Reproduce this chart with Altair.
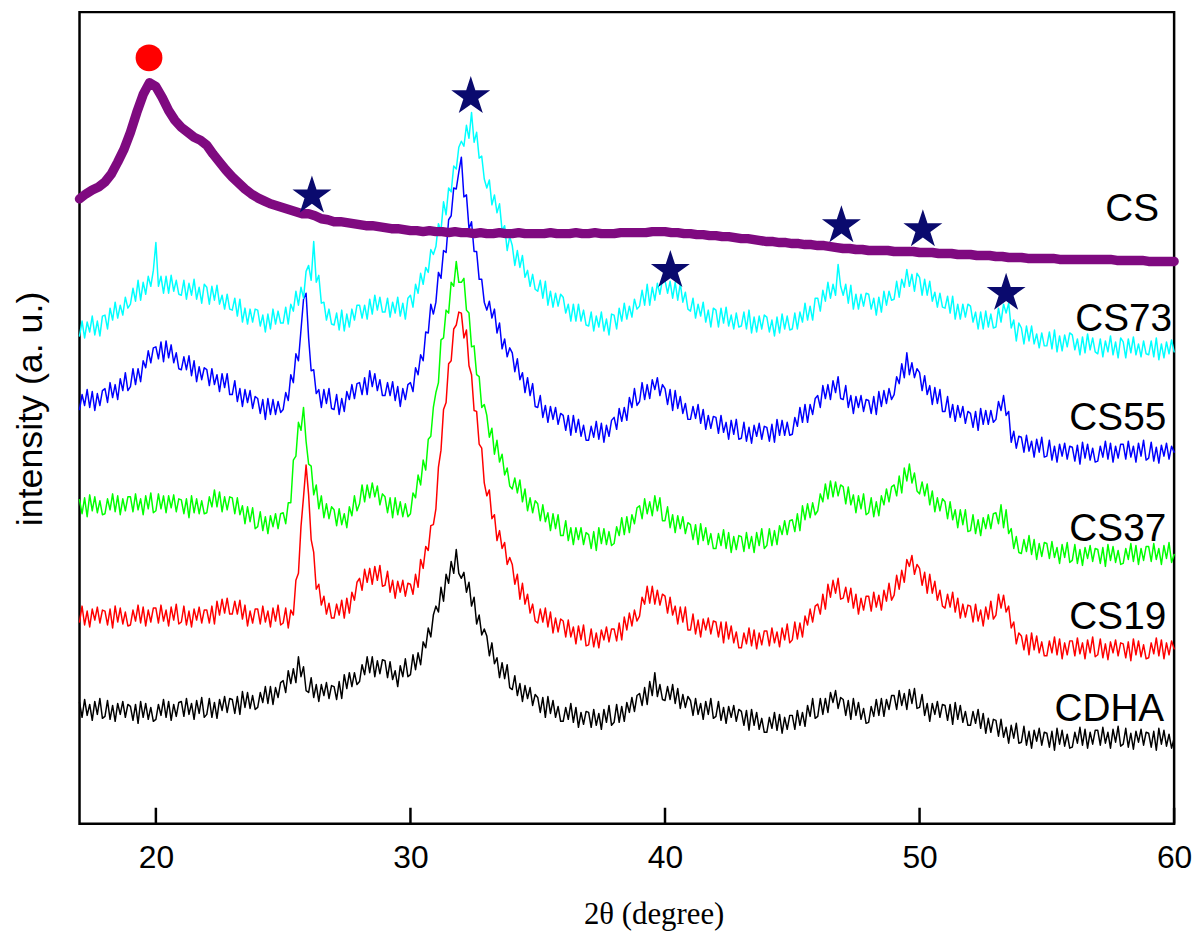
import altair as alt
import pandas as pd

# ---------------- data ----------------
X_START = 17.0
STEP_NOISY = 0.1   # 2theta step of the noisy XRD traces (10 values per degree)
STEP_CS = 0.25     # 2theta step of the CS trace (4 values per degree)

cdha = [
    122, 107, 125, 109, 120, 104, 123, 110, 126, 106,  # 17
    108, 124, 105, 119, 103, 121, 110, 123, 107, 120,  # 18
    118, 104, 120, 101, 123, 107, 121, 105, 117, 103,  # 19
    105, 120, 109, 125, 107, 123, 104, 120, 108, 122,  # 20
    123, 108, 126, 110, 121, 105, 124, 111, 127, 107,  # 21
    110, 126, 107, 122, 106, 125, 114, 128, 112, 126,  # 22
    125, 111, 128, 110, 133, 117, 132, 116, 129, 115,  # 23
    117, 132, 122, 138, 121, 138, 120, 137, 127, 142,  # 24
    144, 132, 154, 141, 156, 142, 168, 148, 158, 134,  # 25
    132, 147, 127, 140, 123, 140, 129, 142, 126, 139,  # 26
    138, 125, 143, 126, 150, 136, 152, 138, 152, 140,  # 27
    143, 160, 150, 168, 152, 168, 148, 164, 151, 165,  # 28
    164, 147, 163, 145, 154, 138, 159, 148, 166, 148,  # 29
    150, 170, 155, 172, 160, 183, 177, 197, 188, 210,  # 30
    219, 213, 238, 224, 251, 242, 264, 252, 276, 252,  # 31
    247, 253, 233, 243, 219, 228, 201, 210, 190, 196,  # 32
    189, 169, 182, 161, 167, 147, 162, 146, 160, 137,  # 33
    135, 149, 129, 141, 123, 139, 126, 137, 119, 130,  # 34
    127, 112, 127, 107, 128, 111, 124, 107, 118, 103,  # 35
    103, 117, 105, 121, 102, 117, 97, 112, 100, 113,   # 36
    112, 97, 115, 99, 111, 95, 115, 102, 119, 99,      # 37
    102, 120, 102, 118, 103, 122, 112, 127, 113, 129,  # 38
    131, 119, 137, 120, 143, 129, 152, 128, 140, 125,  # 39
    124, 138, 125, 140, 121, 136, 116, 130, 117, 128,  # 40
    124, 109, 126, 110, 121, 105, 123, 110, 126, 106,  # 41
    108, 123, 104, 117, 101, 118, 107, 119, 103, 115,  # 42
    113, 99, 114, 94, 115, 99, 112, 95, 106, 92,       # 43
    92, 107, 96, 112, 94, 110, 91, 107, 95, 109,       # 44
    109, 95, 114, 99, 112, 98, 119, 108, 126, 106,     # 45
    108, 126, 110, 126, 112, 132, 122, 134, 116, 127,  # 46
    125, 109, 124, 105, 126, 109, 122, 105, 116, 101,  # 47
    102, 118, 108, 125, 109, 126, 108, 125, 115, 129,  # 48
    129, 115, 134, 119, 131, 115, 135, 121, 136, 116,  # 49
    117, 130, 109, 121, 103, 121, 110, 123, 107, 120,  # 50
    119, 104, 120, 100, 122, 105, 119, 102, 113, 99,   # 51
    99, 113, 101, 115, 96, 111, 91, 106, 92, 105,      # 52
    104, 88, 105, 87, 97, 81, 99, 86, 101, 81,         # 53
    82, 98, 79, 93, 76, 94, 83, 96, 79, 92,            # 54
    91, 77, 93, 74, 96, 80, 94, 78, 90, 76,            # 55
    77, 92, 81, 97, 79, 95, 76, 92, 80, 94,            # 56
    94, 79, 97, 81, 92, 76, 95, 82, 98, 78,            # 57
    80, 96, 77, 91, 75, 93, 82, 95, 79, 92,            # 58
    91, 77, 93, 74, 96, 80, 94, 78, 90, 76,            # 59
    86,                                                # 60
]

cs19 = [
    203, 219, 200, 214, 198, 216, 205, 218, 202, 215,  # 17
    214, 200, 216, 197, 219, 203, 217, 201, 213, 199,  # 18
    200, 215, 204, 220, 202, 218, 199, 215, 203, 217,  # 19
    217, 202, 220, 204, 215, 199, 218, 205, 221, 201,  # 20
    203, 219, 200, 214, 198, 216, 205, 218, 202, 215,  # 21
    215, 202, 219, 201, 224, 210, 226, 212, 227, 211,  # 22
    211, 224, 211, 225, 206, 220, 199, 214, 202, 216,  # 23
    216, 201, 219, 203, 214, 198, 217, 204, 220, 200,  # 24
    202, 217, 197, 215, 210, 245, 252, 299, 329, 361,  # 25
    331, 286, 273, 236, 241, 220, 229, 211, 222, 207,  # 26
    207, 221, 210, 225, 207, 227, 212, 233, 225, 243,  # 27
    247, 235, 256, 243, 257, 241, 259, 245, 260, 239,  # 28
    240, 254, 233, 245, 227, 244, 233, 245, 229, 242,  # 29
    241, 231, 251, 238, 266, 257, 279, 275, 300, 301,  # 30
    317, 359, 376, 417, 424, 463, 466, 498, 502, 515,  # 31
    514, 489, 497, 461, 452, 416, 415, 382, 378, 343,  # 32
    330, 336, 307, 311, 285, 295, 277, 283, 261, 268,  # 33
    261, 241, 251, 226, 242, 221, 231, 212, 221, 204,  # 34
    202, 216, 203, 217, 198, 213, 192, 207, 193, 206,  # 35
    204, 188, 205, 188, 198, 181, 199, 185, 200, 179,  # 36
    180, 196, 178, 192, 177, 195, 185, 198, 183, 196,  # 37
    196, 184, 202, 185, 208, 195, 212, 199, 215, 204,  # 38
    209, 228, 221, 239, 222, 239, 221, 235, 220, 231,  # 39
    229, 212, 228, 210, 219, 201, 218, 203, 218, 195,  # 40
    195, 211, 191, 205, 188, 206, 195, 207, 191, 204,  # 41
    203, 188, 203, 182, 203, 186, 199, 182, 193, 177,  # 42
    177, 192, 181, 197, 179, 195, 176, 192, 180, 194,  # 43
    194, 179, 197, 182, 193, 178, 197, 185, 201, 182,  # 44
    185, 203, 186, 202, 188, 209, 200, 216, 203, 219,  # 45
    221, 211, 231, 216, 241, 228, 245, 232, 247, 226,  # 46
    227, 238, 223, 237, 217, 231, 211, 227, 215, 229,  # 47
    229, 214, 233, 218, 230, 215, 235, 224, 242, 225,  # 48
    230, 250, 236, 255, 243, 266, 259, 270, 251, 261,  # 49
    257, 240, 253, 232, 251, 232, 244, 225, 235, 219,  # 50
    217, 231, 218, 233, 213, 227, 207, 221, 208, 220,  # 51
    219, 203, 221, 204, 215, 199, 218, 206, 224, 206,  # 52
    210, 231, 217, 230, 213, 219, 197, 203, 181, 192,  # 53
    189, 175, 190, 170, 192, 175, 189, 172, 183, 169,  # 54
    169, 184, 172, 188, 170, 186, 166, 182, 170, 184,  # 55
    184, 169, 187, 171, 182, 166, 185, 172, 188, 168,  # 56
    170, 186, 167, 181, 165, 183, 172, 185, 169, 182,  # 57
    181, 167, 183, 164, 186, 170, 184, 168, 180, 166,  # 58
    167, 182, 171, 187, 169, 185, 166, 182, 170, 184,  # 59
    176,                                               # 60
]

cs37 = [
    326, 312, 328, 309, 331, 315, 329, 313, 325, 311,  # 17
    312, 327, 316, 332, 314, 330, 311, 327, 315, 329,  # 18
    329, 314, 332, 316, 327, 311, 330, 317, 333, 313,  # 19
    315, 332, 317, 330, 313, 330, 318, 331, 314, 327,  # 20
    326, 312, 327, 308, 330, 313, 327, 312, 325, 312,  # 21
    313, 329, 319, 336, 319, 334, 314, 329, 316, 329,  # 22
    328, 312, 328, 311, 320, 302, 319, 304, 318, 297,  # 23
    299, 314, 295, 309, 292, 310, 299, 312, 297, 312,  # 24
    313, 302, 323, 323, 366, 370, 404, 396, 419, 385,  # 25
    362, 360, 331, 341, 317, 330, 308, 322, 307, 319,  # 26
    316, 300, 317, 301, 312, 298, 319, 310, 330, 315,  # 27
    322, 341, 324, 341, 328, 343, 329, 340, 321, 332,  # 28
    329, 313, 328, 308, 328, 311, 324, 309, 322, 309,  # 29
    312, 333, 328, 351, 341, 366, 356, 387, 390, 419,  # 30
    434, 444, 487, 489, 517, 514, 545, 541, 566, 545,  # 31
    545, 549, 517, 514, 480, 481, 452, 450, 419, 422,  # 32
    411, 389, 398, 372, 386, 364, 372, 351, 358, 340,  # 33
    337, 348, 333, 346, 324, 337, 315, 328, 313, 325,  # 34
    322, 305, 321, 304, 313, 295, 312, 297, 311, 290,  # 35
    290, 305, 285, 298, 281, 298, 286, 298, 281, 293,  # 36
    291, 277, 294, 275, 298, 282, 297, 281, 294, 280,  # 37
    282, 299, 290, 308, 291, 309, 293, 311, 302, 318,  # 38
    320, 307, 327, 312, 324, 310, 330, 315, 328, 305,  # 39
    305, 319, 298, 311, 293, 310, 297, 309, 292, 303,  # 40
    301, 286, 301, 281, 302, 285, 298, 281, 292, 277,  # 41
    277, 292, 280, 296, 277, 293, 273, 289, 276, 290,  # 42
    289, 274, 293, 277, 289, 273, 293, 280, 297, 277,  # 43
    280, 297, 280, 295, 281, 300, 291, 305, 291, 305,  # 44
    306, 294, 312, 295, 320, 306, 322, 308, 323, 311,  # 45
    315, 332, 324, 342, 327, 345, 329, 344, 330, 341,  # 46
    339, 322, 339, 321, 331, 313, 330, 317, 332, 311,  # 47
    313, 328, 309, 324, 310, 330, 321, 337, 324, 339,  # 48
    341, 330, 350, 333, 358, 345, 362, 343, 353, 335,  # 49
    332, 344, 330, 342, 321, 335, 314, 328, 315, 327,  # 50
    324, 307, 324, 306, 316, 298, 316, 301, 316, 294,  # 51
    295, 311, 292, 306, 290, 308, 297, 311, 297, 312,  # 52
    313, 302, 321, 298, 316, 292, 297, 277, 289, 273,  # 53
    272, 286, 274, 290, 271, 286, 266, 282, 269, 283,  # 54
    282, 267, 284, 268, 278, 262, 281, 268, 283, 263,  # 55
    265, 281, 262, 276, 260, 278, 267, 280, 264, 277,  # 56
    276, 262, 278, 259, 281, 265, 279, 263, 275, 261,  # 57
    262, 277, 266, 282, 264, 280, 261, 277, 265, 279,  # 58
    279, 264, 282, 266, 277, 261, 280, 267, 283, 263,  # 59
    271,                                               # 60
]

cs55 = [
    417, 432, 421, 437, 419, 435, 416, 433, 421, 436,  # 17
    438, 424, 444, 429, 442, 427, 448, 436, 454, 436,  # 18
    440, 458, 442, 458, 445, 466, 459, 476, 464, 479,  # 19
    480, 468, 485, 465, 486, 469, 482, 464, 474, 458,  # 20
    457, 470, 457, 471, 451, 466, 445, 460, 447, 459,  # 21
    457, 441, 458, 442, 452, 435, 453, 439, 453, 432,  # 22
    432, 446, 425, 438, 420, 437, 424, 436, 418, 430,  # 23
    428, 413, 427, 407, 428, 412, 427, 412, 425, 414,  # 24
    417, 434, 426, 452, 444, 473, 466, 497, 528, 534,  # 25
    489, 456, 457, 433, 437, 419, 437, 423, 438, 418,  # 26
    417, 432, 412, 428, 415, 435, 427, 442, 428, 443,  # 27
    444, 432, 449, 432, 456, 440, 453, 436, 447, 431,  # 28
    431, 444, 431, 445, 426, 440, 420, 438, 427, 442,  # 29
    444, 435, 459, 452, 472, 466, 495, 494, 523, 513,  # 30
    525, 555, 549, 577, 575, 608, 612, 640, 639, 656,  # 31
    671, 631, 633, 599, 606, 576, 576, 548, 548, 525,  # 32
    517, 526, 509, 518, 494, 504, 478, 488, 470, 479,  # 33
    474, 455, 468, 447, 454, 434, 449, 431, 443, 420,  # 34
    419, 431, 409, 421, 404, 420, 407, 419, 402, 413,  # 35
    411, 396, 411, 391, 411, 394, 407, 390, 401, 386,  # 36
    386, 400, 389, 405, 387, 403, 384, 401, 390, 406,  # 37
    409, 397, 418, 405, 419, 406, 429, 419, 438, 421,  # 38
    425, 444, 427, 442, 428, 447, 437, 449, 431, 442,  # 39
    438, 422, 437, 416, 436, 418, 430, 413, 423, 407,  # 40
    407, 420, 408, 422, 403, 417, 397, 411, 398, 410,  # 41
    409, 393, 411, 394, 404, 387, 406, 392, 407, 387,  # 42
    388, 404, 385, 399, 383, 401, 390, 403, 387, 400,  # 43
    399, 385, 402, 384, 407, 391, 406, 391, 404, 391,  # 44
    392, 409, 400, 419, 404, 422, 404, 422, 412, 428,  # 45
    431, 419, 441, 428, 442, 427, 446, 434, 450, 428,  # 46
    427, 441, 419, 431, 413, 430, 419, 431, 415, 427,  # 47
    426, 413, 430, 412, 435, 420, 436, 423, 438, 427,  # 48
    432, 450, 443, 463, 449, 474, 452, 464, 449, 458,  # 49
    454, 436, 451, 432, 441, 422, 439, 423, 437, 415,  # 50
    415, 430, 409, 422, 405, 421, 409, 420, 403, 415,  # 51
    413, 399, 415, 396, 418, 402, 416, 402, 416, 404,  # 52
    407, 425, 416, 431, 411, 415, 384, 395, 378, 390,  # 53
    389, 374, 391, 375, 385, 369, 387, 374, 389, 369,  # 54
    370, 386, 366, 380, 364, 382, 370, 383, 367, 380,  # 55
    379, 365, 381, 362, 384, 368, 382, 366, 378, 364,  # 56
    365, 380, 369, 385, 367, 383, 364, 380, 368, 382,  # 57
    382, 367, 385, 369, 380, 364, 383, 370, 386, 366,  # 58
    368, 384, 365, 379, 363, 381, 370, 383, 367, 380,  # 59
    374,                                               # 60
]

cs73 = [
    491, 506, 489, 505, 495, 511, 492, 506, 491, 511,  # 17
    512, 498, 519, 507, 525, 509, 522, 512, 530, 519,  # 18
    523, 539, 526, 547, 527, 545, 533, 551, 541, 557,  # 19
    585, 541, 551, 534, 551, 534, 552, 536, 547, 533,  # 20
    532, 547, 528, 544, 532, 548, 528, 540, 524, 543,  # 21
    540, 523, 541, 527, 542, 523, 532, 518, 533, 518,  # 22
    517, 529, 511, 528, 505, 519, 503, 518, 505, 518,  # 23
    517, 501, 512, 495, 513, 498, 518, 503, 516, 504,  # 24
    504, 520, 503, 523, 516, 536, 522, 540, 529, 556,  # 25
    562, 547, 586, 545, 552, 524, 525, 507, 518, 503,  # 26
    502, 514, 497, 517, 496, 513, 500, 518, 507, 522,  # 27
    522, 509, 522, 508, 528, 513, 532, 517, 530, 515,  # 28
    515, 529, 510, 525, 514, 530, 511, 524, 508, 529,  # 29
    532, 520, 543, 534, 554, 543, 560, 555, 578, 573,  # 30
    581, 604, 597, 626, 613, 640, 636, 662, 659, 681,  # 31
    687, 682, 703, 690, 716, 686, 696, 670, 672, 649,  # 32
    640, 648, 623, 633, 615, 624, 597, 602, 577, 591,  # 33
    582, 562, 577, 560, 572, 550, 557, 541, 553, 538,  # 34
    536, 547, 529, 546, 522, 536, 520, 534, 521, 533,  # 35
    530, 514, 523, 506, 523, 506, 523, 506, 517, 502,  # 36
    501, 515, 496, 511, 500, 515, 496, 508, 492, 513,  # 37
    512, 498, 519, 506, 524, 508, 521, 510, 528, 518,  # 38
    521, 537, 522, 543, 522, 540, 527, 544, 533, 548,  # 39
    547, 534, 546, 529, 545, 527, 544, 525, 535, 518,  # 40
    516, 529, 509, 523, 511, 525, 505, 517, 500, 519,  # 41
    517, 500, 519, 504, 520, 501, 512, 498, 514, 500,  # 42
    501, 515, 498, 517, 494, 510, 495, 511, 498, 512,  # 43
    510, 495, 507, 491, 510, 494, 513, 498, 511, 497,  # 44
    498, 514, 498, 515, 505, 524, 507, 521, 507, 529,  # 45
    529, 516, 537, 526, 545, 529, 543, 532, 563, 541,  # 46
    532, 543, 524, 542, 518, 533, 518, 533, 521, 534,  # 47
    533, 518, 529, 512, 530, 515, 536, 522, 536, 527,  # 48
    528, 546, 530, 548, 540, 558, 541, 553, 536, 554,  # 49
    550, 532, 548, 532, 546, 526, 535, 520, 534, 520,  # 50
    519, 531, 514, 531, 508, 523, 508, 523, 510, 523,  # 51
    521, 505, 515, 498, 515, 498, 516, 500, 513, 499,  # 52
    500, 519, 505, 523, 514, 524, 499, 507, 486, 504,  # 53
    499, 483, 501, 486, 501, 483, 493, 479, 494, 481,  # 54
    481, 495, 478, 497, 475, 491, 476, 492, 480, 494,  # 55
    492, 477, 488, 472, 490, 474, 493, 477, 489, 475,  # 56
    473, 488, 470, 486, 475, 491, 472, 485, 469, 489,  # 57
    485, 469, 488, 474, 490, 472, 483, 470, 486, 473,  # 58
    472, 486, 470, 489, 467, 483, 469, 485, 473, 487,  # 59
    475,                                               # 60
]

cs = [
    629, 634, 638, 641,  # 17
    646, 654, 666, 679,  # 18
    696, 716, 734, 746,  # 19
    742, 731, 718, 708,  # 20
    701, 696, 691, 688,  # 21
    683, 674, 666, 658,  # 22
    651, 645, 639, 634,  # 23
    630, 627, 624, 622,  # 24
    620, 618, 616, 614,  # 25
    614, 612, 609, 608,  # 26
    606, 606, 605, 604,  # 27
    603, 602, 602, 601,  # 28
    600, 599, 599, 598,  # 29
    597, 597, 596, 597,  # 30
    596, 596, 595, 596,  # 31
    595, 595, 594, 595,  # 32
    594, 594, 595, 594,  # 33
    594, 595, 594, 594,  # 34
    594, 594, 595, 594,  # 35
    594, 594, 595, 594,  # 36
    594, 595, 594, 594,  # 37
    594, 595, 595, 595,  # 38
    595, 595, 596, 596,  # 39
    596, 595, 595, 594,  # 40
    594, 593, 593, 592,  # 41
    592, 591, 591, 590,  # 42
    589, 589, 588, 587,  # 43
    586, 586, 585, 585,  # 44
    584, 584, 583, 583,  # 45
    582, 582, 581, 580,  # 46
    579, 579, 578, 578,  # 47
    577, 577, 577, 577,  # 48
    576, 576, 576, 576,  # 49
    575, 575, 575, 574,  # 50
    574, 574, 573, 573,  # 51
    573, 572, 572, 572,  # 52
    571, 571, 570, 570,  # 53
    570, 569, 569, 569,  # 54
    569, 569, 568, 568,  # 55
    568, 568, 568, 568,  # 56
    568, 568, 568, 567,  # 57
    567, 567, 567, 567,  # 58
    566, 566, 566, 566,  # 59
    566,                 # 60
]

# peak markers
star_theta = [26.13, 32.37, 40.21, 46.93, 50.13, 53.40]
star_intensity = [632, 732, 557, 602, 598, 534]
circle_theta = [19.73]
circle_intensity = [771]

# sample labels
label_text = ["CS", "CS73", "CS55", "CS37", "CS19", "CDHA"]
label_theta = [59.41, 59.92, 59.69, 59.69, 59.69, 59.61]
label_intensity = [607, 496, 396, 285, 196, 103]

tick_values = [20, 30, 40, 50, 60]

# five-pointed star path in the [-1, 1] box
STAR = ("M0,-1L0.2245,-0.309L0.951,-0.309L0.3633,0.118L0.588,0.809L0,0.382"
        "L-0.588,0.809L-0.3633,0.118L-0.951,-0.309L-0.2245,-0.309Z")

# ---------------- chart ----------------
def series_frame(name, values, step):
    return pd.DataFrame({
        "two_theta": [round(X_START + step * i, 3) for i in range(len(values))],
        "intensity": values,
        "sample": name,
    })

X = alt.X(
    "two_theta:Q",
    scale=alt.Scale(domain=[17, 60], nice=False, zero=False),
    axis=alt.Axis(
        orient="bottom", values=tick_values, grid=False, domain=False, ticks=False,
        labelFont="Liberation Sans", labelFontSize=32, labelColor="black",
        labelPadding=19, labelBaseline="top", labelFlush=False,
        title="2θ (degree)", titleFont="Liberation Serif", titleFontSize=31,
        titleFontWeight="normal", titleColor="black",
        titleX=578, titleY=101, titleAlign="center", titleBaseline="alphabetic",
    ),
)
Y = alt.Y(
    "intensity:Q",
    scale=alt.Scale(domain=[0, 817], nice=False, zero=False),
    axis=alt.Axis(
        orient="left", labels=False, grid=False, domain=False, ticks=False,
        title="intensity (a. u.)", titleFont="Liberation Sans", titleFontSize=36,
        titleFontWeight="normal", titleColor="black", titleAngle=270,
        titleX=-38, titleY=399, titleAlign="center", titleBaseline="alphabetic",
    ),
)

def trace(name, values, step, color, width):
    return alt.Chart(series_frame(name, values, step)).mark_line(
        color=color, strokeWidth=width, strokeJoin="round", strokeCap="round"
    ).encode(x=X, y=Y)

layers = [
    trace("CDHA", cdha, STEP_NOISY, "#000000", 1.5),
    trace("CS19", cs19, STEP_NOISY, "#ff0000", 1.5),
    trace("CS37", cs37, STEP_NOISY, "#00ff00", 1.5),
    trace("CS55", cs55, STEP_NOISY, "#0000ff", 1.5),
    trace("CS73", cs73, STEP_NOISY, "#00ffff", 1.5),
    trace("CS", cs, STEP_CS, "#7f0a80", 9.5),
]

stars = alt.Chart(pd.DataFrame({"two_theta": star_theta, "intensity": star_intensity})).mark_point(
    shape=STAR, filled=True, color="#0a0a6e", opacity=1, size=1700, strokeWidth=0
).encode(x=X, y=Y)

circles = alt.Chart(pd.DataFrame({"two_theta": circle_theta, "intensity": circle_intensity})).mark_point(
    shape="circle", filled=True, color="#ff0000", opacity=1, size=729, strokeWidth=0
).encode(x=X, y=Y)

labels = alt.Chart(pd.DataFrame({"two_theta": label_theta, "intensity": label_intensity, "label": label_text})).mark_text(
    font="Liberation Sans", fontSize=39, align="right", baseline="alphabetic", color="black"
).encode(x=X, y=Y, text="label:N")

ticks = alt.Chart(pd.DataFrame({"two_theta": tick_values, "intensity": [0] * 5, "intensity_end": [16] * 5})).mark_rule(
    color="black", strokeWidth=2.5
).encode(x=X, y=Y, y2="intensity_end:Q")

chart = alt.layer(*layers, stars, circles, labels, ticks).properties(
    width=1102, height=817,
    padding={"left": 72, "top": 1, "right": 18, "bottom": 116},
    autosize=alt.AutoSizeParams(type="none"),
).configure(background="white").configure_view(stroke="black", strokeWidth=2.5)

chart.save("out.html", embed_options={"renderer": "svg", "actions": False})
